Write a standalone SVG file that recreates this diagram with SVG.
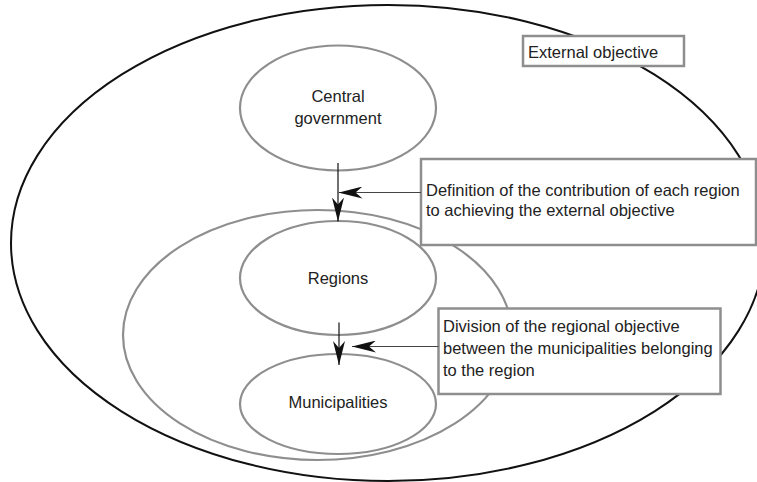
<svg xmlns="http://www.w3.org/2000/svg" width="757" height="482" viewBox="0 0 757 482">
<style>
.lbl{font-family:"Liberation Sans",Arial,sans-serif;font-size:16.5px;fill:#222}
.mid{text-anchor:middle}
.gray{fill:none;stroke:#8e8e8e;stroke-width:2.2}
.box{fill:#fff;stroke:#8e8e8e;stroke-width:2.5}
.con{fill:none;stroke:#111;stroke-width:1.2}
.hcon{fill:none;stroke:#444;stroke-width:1.2}
</style>
<defs>
<marker id="ah" viewBox="0 0 24 12" refX="24" refY="6" markerWidth="24" markerHeight="12" markerUnits="userSpaceOnUse" orient="auto">
<path d="M24,6 L0,0 L7,6 L0,12 Z" fill="#111"/>
</marker>
</defs>
<rect width="757" height="482" fill="#fff"/>
<g id="outer"><ellipse cx="388" cy="243" rx="377" ry="238" fill="none" stroke="#111" stroke-width="2"/></g>
<g id="regional-domain"><ellipse cx="317.5" cy="335" rx="194.5" ry="125" class="gray"/></g>
<g id="central"><ellipse cx="338" cy="108" rx="98" ry="62.5" class="gray"/><text class="lbl mid" x="338" y="102">Central</text><text class="lbl mid" x="338" y="124">government</text></g>
<g id="regions"><ellipse cx="338" cy="278" rx="98" ry="57" class="gray"/><text class="lbl mid" x="338" y="284">Regions</text></g>
<g id="municipalities"><ellipse cx="338" cy="404" rx="98" ry="50" class="gray"/><text class="lbl mid" x="338" y="408">Municipalities</text></g>
<g id="external"><rect x="523" y="36" width="161" height="30" class="box"/><text class="lbl" x="528" y="58">External objective</text></g>
<g id="definition"><rect x="421" y="159" width="335" height="86" class="box"/><text class="lbl" x="426" y="196">Definition of the contribution of each region</text><text class="lbl" x="426" y="216">to achieving the external objective</text></g>
<g id="division"><rect x="438.5" y="308.5" width="282" height="85.5" class="box"/><text class="lbl" x="443" y="332">Division of the regional objective</text><text class="lbl" x="443" y="354">between the municipalities belonging</text><text class="lbl" x="443" y="376">to the region</text></g>
<g id="connectors">
<line x1="338" y1="163" x2="338" y2="221.5" class="con" marker-end="url(#ah)"/>
<line x1="421" y1="192.5" x2="338.5" y2="192.5" class="hcon" marker-end="url(#ah)"/>
<line x1="339" y1="322.5" x2="339" y2="365" class="con" marker-end="url(#ah)"/>
<line x1="438.5" y1="346.5" x2="352" y2="346.5" class="hcon" marker-end="url(#ah)"/>
</g>
</svg>
